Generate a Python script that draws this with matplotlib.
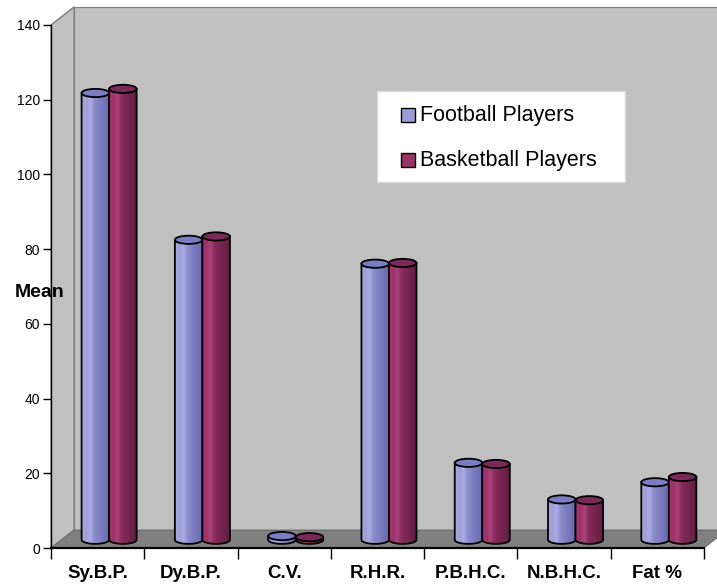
import numpy as np
import matplotlib
matplotlib.use("Agg")
import matplotlib.pyplot as plt
from matplotlib.patches import Polygon, Ellipse, Rectangle

plt.rcParams['font.family'] = ['Liberation Sans', 'DejaVu Sans']

# data
categories = ["Sy.B.P.", "Dy.B.P.", "C.V.", "R.H.R.", "P.B.H.C.", "N.B.H.C.", "Fat %"]
football = [119.6, 80.3, 1.0, 73.9, 20.6, 10.8, 15.4]
basketball = [120.7, 81.2, 0.7, 74.1, 20.3, 10.6, 16.8]
series_names = ["Football Players", "Basketball Players"]
yticks = [0, 20, 40, 60, 80, 100, 120, 140]

W, H = 717, 586
fig = plt.figure(figsize=(W / 100, H / 100), dpi=100)
fig.patch.set_facecolor("white")
ax = fig.add_axes([51 / W, 38 / H, 653 / W, 523 / H])
ax.set_facecolor("none")

n = len(categories)
ymax = 140
DX, DY = 0.246, 4.8     # depth offset (category units, value units)
BW = 0.295              # cylinder width
EH = 2.2                # ellipse height in value units
BASE = 2.2

# walls and floor
wall_c = "#c0c0c0"
ax.add_patch(Polygon([(0, 0), (DX, DY), (DX, ymax + DY), (0, ymax)], closed=True,
                     fc=wall_c, ec="#808080", lw=0.8, clip_on=False, zorder=0))
ax.add_patch(Polygon([(DX, DY), (n + DX, DY), (n + DX, ymax + DY), (DX, ymax + DY)], closed=True,
                     fc=wall_c, ec="#808080", lw=0.8, clip_on=False, zorder=0))
ax.add_patch(Polygon([(0, 0), (n, 0), (n + DX, DY), (DX, DY)], closed=True,
                     fc="#808080", ec="#606060", lw=0.6, clip_on=False, zorder=0.5))
ax.plot([0, DX], [ymax, ymax + DY], color="#808080", lw=0.8, clip_on=False, zorder=0.6)


def grad(c_left, c_right, steps=40):
    c1 = np.array(c_left) / 255.0
    c2 = np.array(c_right) / 255.0
    t = np.linspace(0, 1, steps)[:, None]
    g = c1 * (1 - t) + c2 * t
    # soft highlight stripe
    hl = np.exp(-((t - 0.3) ** 2) / 0.01) * 0.08
    g = np.clip(g + hl, 0, 1)
    return g[None, :, :]


styles = [
    dict(body=grad((168, 168, 222), (104, 104, 178)), top="#7c7cc4", key="#9c9cd6"),
    dict(body=grad((168, 52, 112), (96, 30, 68)), top="#7a2a58", key="#993366"),
]


def cylinder(xc, val, st, z):
    x0, x1 = xc - BW / 2, xc + BW / 2
    top = BASE + val
    t = np.linspace(np.pi, 2 * np.pi, 40)
    arc = np.column_stack([xc + BW / 2 * np.cos(t), BASE + EH / 2 * np.sin(t)])
    verts = np.vstack([[x0, top], arc, [x1, top]])
    body = Polygon(verts, closed=True, fc="none", ec="black", lw=1.3, zorder=z + 0.2)
    ax.add_patch(body)
    im = ax.imshow(st["body"], extent=(x0, x1, BASE - EH / 2, top), aspect="auto",
                   interpolation="bilinear", zorder=z + 0.1)
    im.set_clip_path(body)
    ax.add_patch(Ellipse((xc, top), BW, EH, fc=st["top"], ec="black", lw=1.3, zorder=z + 0.3))


for i in range(n):
    cx = i + 0.5 + DX / 2
    for k, vals in enumerate([football, basketball]):
        xc = cx + (k - 0.5) * BW
        cylinder(xc, vals[i], styles[k], 2 + i + k * 0.5)

ax.set_xlim(0, n)
ax.set_ylim(0, ymax)

for s in ["top", "right"]:
    ax.spines[s].set_visible(False)
ax.spines["left"].set_linewidth(1.0)
ax.spines["bottom"].set_linewidth(1.6)
ax.spines["left"].set_zorder(20)
ax.spines["bottom"].set_zorder(20)

ax.set_yticks(yticks)
ax.set_yticklabels([str(v) for v in yticks], fontsize=10)
ax.tick_params(axis="y", length=6, width=1, pad=2, direction="out")

ax.set_xticks(range(n + 1))
ax.set_xticklabels([])
ax.tick_params(axis="x", which="major", length=8, width=1, direction="out")
ax.set_xticks([i + 0.5 for i in range(n)], minor=True)
ax.set_xticklabels(categories, minor=True, fontsize=13.5, fontweight="bold")
ax.tick_params(axis="x", which="minor", length=0, pad=12)

ax.set_ylabel("Mean", rotation=0, fontsize=14, fontweight="bold", va="center", ha="center")
ax.yaxis.set_label_coords(-0.017, 0.488)

# legend box
lx0, ly0, lw_, lh_ = 377, 91, 248, 91
fig.patches.append(Rectangle((lx0 / W, 1 - (ly0 + lh_) / H), lw_ / W, lh_ / H,
                             transform=fig.transFigure, fc="white", ec="#d8d8d8", lw=1, zorder=30))
for k, (name, y) in enumerate(zip(series_names, [115, 160])):
    fig.patches.append(Rectangle((401 / W, 1 - (y + 7) / H), 14 / W, 14 / H, transform=fig.transFigure,
                                 fc=styles[k]["key"], ec="black", lw=1, zorder=31))
    fig.text(420 / W, 1 - y / H, name, fontsize=15.5, va="center", ha="left", zorder=32)

fig.savefig("out.png", dpi=100)
